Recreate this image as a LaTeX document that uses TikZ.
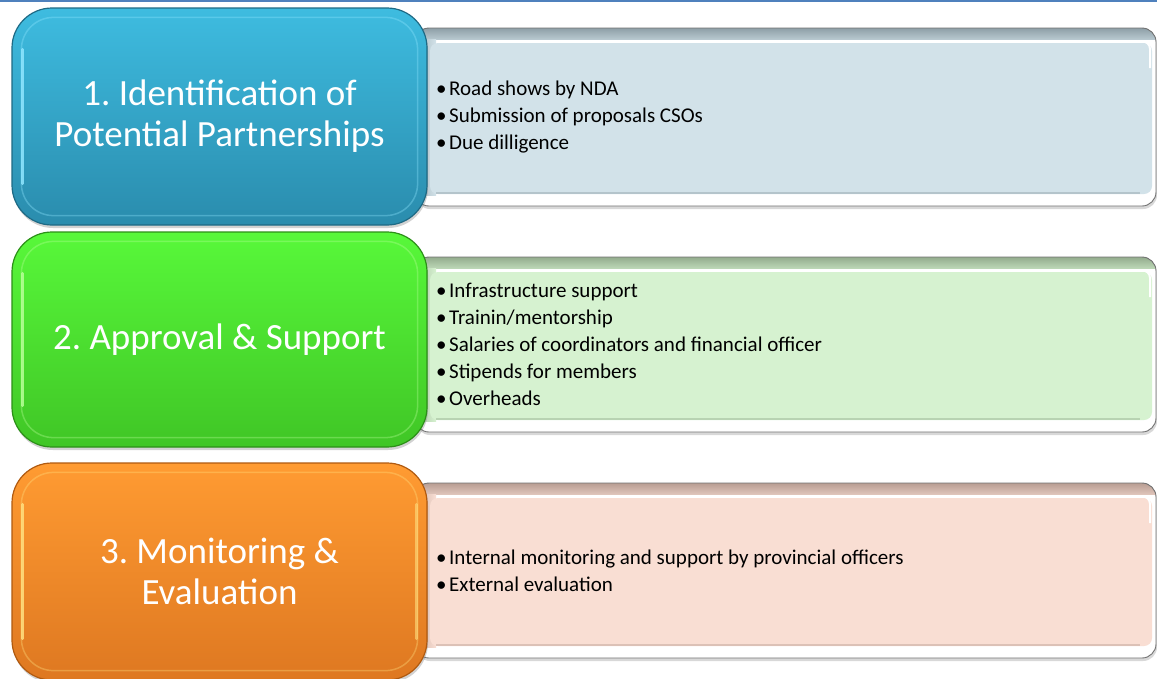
\documentclass[tikz,border=0pt]{standalone}
\usepackage{fontspec}
\setmainfont{Carlito}
\frenchspacing
\usetikzlibrary{shadows}
\definecolor{topline}{HTML}{4F81BD}
\definecolor{blueT}{HTML}{3EBCE0}
\definecolor{blueB}{HTML}{2A8CAD}
\definecolor{blueE}{HTML}{1E6A85}
\definecolor{blueH}{HTML}{8FE6FF}
\definecolor{greenT}{HTML}{58F83A}
\definecolor{greenB}{HTML}{40C626}
\definecolor{greenE}{HTML}{2C9018}
\definecolor{greenH}{HTML}{B8FF98}
\definecolor{orT}{HTML}{FF9B32}
\definecolor{orB}{HTML}{DE7821}
\definecolor{orE}{HTML}{B05A10}
\definecolor{orH}{HTML}{FFE080}
\definecolor{blueF}{HTML}{D2E2E9}
\definecolor{greenF}{HTML}{D6F2D0}
\definecolor{pinkF}{HTML}{F9DED3}
\definecolor{blueG}{HTML}{8E9FA7}
\definecolor{greenG}{HTML}{93AC8D}
\definecolor{pinkG}{HTML}{B89D93}
\newcommand{\myrbox}[4]{%
  \path[drop shadow={opacity=0.3,shadow xshift=1pt,shadow yshift=-3pt}, fill=white, rounded corners=14pt] (415,#1) rectangle (1156,#2);
  \begin{scope}
    \clip[rounded corners=14pt] (415,#1) rectangle (1156,#2);
    \fill[top color=#4, bottom color=#3!60!#4] (415,#1) rectangle (1156,#1+11);
    \fill[left color=#4!70!#3, right color=#3] (415,#1+11) rectangle (436,#2-11);
    \fill[#3, rounded corners=8pt] (430,#1+15) rectangle (1152,#2-12);
    \draw[#4!45!#3, line width=1.2pt] (436,#2-13) -- (1140,#2-13);
    \draw[white, line width=2pt, rounded corners=8pt] (1100,#1+13) -- (1150,#1+13) -- (1150,#1+40);
  \end{scope}
  \draw[black!55, line width=0.9pt, rounded corners=14pt] (415,#1) rectangle (1156,#2);
}
\tikzset{
  lbox/.style={rounded corners=40pt, minimum width=415pt, minimum height=217pt, line width=1.2pt,
    align=center, text=white, font=\fontsize{37}{41}\selectfont, inner sep=0pt,
    drop shadow={opacity=0.35,shadow xshift=1pt,shadow yshift=-3pt}},
  inner/.style={line width=1.5pt, rounded corners=32pt, opacity=0.35},
  hilite/.style={line width=3pt, line cap=round, opacity=0.85},
  itemtext/.style={anchor=west, align=left, font=\fontsize{21}{27}\selectfont, inner sep=0pt, text=black}
}
\begin{document}
\begin{tikzpicture}[x=1pt,y=-1pt]
\useasboundingbox (0,0) rectangle (1157,678);
\fill[white] (0,0) rectangle (1157,678);
\fill[topline] (0,0) rectangle (1157,2);
% right panels
\myrbox{28}{206}{blueF}{blueG}
\myrbox{257}{432}{greenF}{greenG}
\myrbox{483}{658}{pinkF}{pinkG}
% left boxes
\node[lbox, top color=blueT, bottom color=blueB, draw=blueE] (b1) at (219.5,116.5) {1. Identification of\\Potential Partnerships};
\draw[inner, blueH] ([xshift=10pt,yshift=-10pt]b1.north west) rectangle ([xshift=-10pt,yshift=10pt]b1.south east);
\draw[hilite, blueH] ([xshift=11pt,yshift=-42pt]b1.north west) -- ([xshift=11pt,yshift=42pt]b1.south west);

\node[lbox, top color=greenT, bottom color=greenB, draw=greenE, minimum height=215pt] (b2) at (219.5,339.5) {2. Approval \& Support};
\draw[inner, greenH] ([xshift=10pt,yshift=-10pt]b2.north west) rectangle ([xshift=-10pt,yshift=10pt]b2.south east);
\draw[hilite, greenH] ([xshift=11pt,yshift=-42pt]b2.north west) -- ([xshift=11pt,yshift=42pt]b2.south west);

\node[lbox, top color=orT, bottom color=orB, draw=orE] (b3) at (219.5,571.5) {3. Monitoring \&\\Evaluation};
\draw[inner, orH] ([xshift=10pt,yshift=-10pt]b3.north west) rectangle ([xshift=-10pt,yshift=10pt]b3.south east);
\draw[hilite, orH] ([xshift=11pt,yshift=-42pt]b3.north west) -- ([xshift=11pt,yshift=42pt]b3.south west);
\draw[hilite, orH, opacity=0.6] ([xshift=-11pt,yshift=-42pt]b3.north east) -- ([xshift=-11pt,yshift=42pt]b3.south east);

% texts
\node[itemtext] (t1) at (436,117.5) {\textbullet\hspace{2.5pt}Road shows by NDA\\\textbullet\hspace{2.5pt}Submission of proposals CSOs\\\textbullet\hspace{2.5pt}Due dilligence};
\node[itemtext] (t2) at (436,344) {\textbullet\hspace{2.5pt}Infrastructure support\\\textbullet\hspace{2.5pt}Trainin/mentorship\\\textbullet\hspace{2.5pt}Salaries of coordinators and financial officer\\\textbullet\hspace{2.5pt}Stipends for members\\\textbullet\hspace{2.5pt}Overheads};
\node[itemtext] (t3) at (436,571) {\textbullet\hspace{2.5pt}Internal monitoring and support by provincial officers\\\textbullet\hspace{2.5pt}External evaluation};
\end{tikzpicture}
\end{document}
